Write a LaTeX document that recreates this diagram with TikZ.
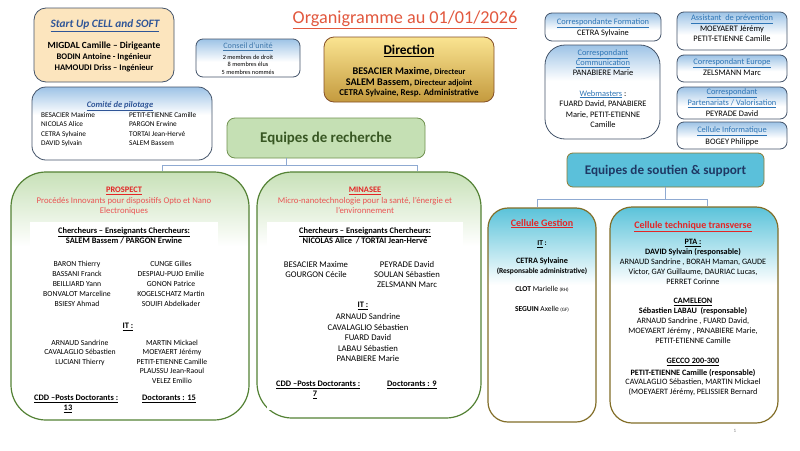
\documentclass[tikz,border=0pt]{standalone}
\usepackage{fontspec}
\setmainfont{Carlito}
\definecolor{titlered}{RGB}{226,88,62}
\definecolor{blueT}{RGB}{47,85,151}
\definecolor{linkblue}{RGB}{46,117,182}
\definecolor{slate}{RGB}{68,84,106}
\definecolor{startfill}{RGB}{252,229,190}
\definecolor{dirtop}{RGB}{250,228,145}
\definecolor{dirbot}{RGB}{196,154,62}
\definecolor{dirborder}{RGB}{133,80,40}
\definecolor{rechfill}{RGB}{197,224,180}
\definecolor{rechdraw}{RGB}{112,146,80}
\definecolor{rechtext}{RGB}{56,87,35}
\definecolor{teamdraw}{RGB}{84,130,53}
\definecolor{redA}{RGB}{227,38,38}
\definecolor{redB}{RGB}{234,84,84}
\definecolor{soutfill}{RGB}{91,192,218}
\definecolor{soutdraw}{RGB}{140,122,50}
\definecolor{souttext}{RGB}{31,56,100}
\definecolor{celldraw}{RGB}{130,110,40}
\definecolor{connc}{RGB}{143,170,210}
\definecolor{gfade}{RGB}{200,225,184}
\definecolor{cfade}{RGB}{91,195,218}
\definecolor{bfade}{RGB}{157,195,230}
\pgfdeclareverticalshading{greenfade}{100bp}{color(0bp)=(white); color(25bp)=(white); color(60bp)=(white); color(75bp)=(gfade); color(100bp)=(gfade)}
\pgfdeclareverticalshading{cyanfade}{100bp}{color(0bp)=(white); color(25bp)=(white); color(57bp)=(white); color(75bp)=(cfade); color(100bp)=(cfade)}
\pgfdeclareverticalshading{bluefade}{100bp}{color(0bp)=(white); color(25bp)=(white); color(45bp)=(white); color(75bp)=(bfade); color(100bp)=(bfade)}
\pgfdeclareverticalshading{bluefadetall}{100bp}{color(0bp)=(white); color(25bp)=(white); color(56bp)=(white); color(75bp)=(bfade); color(100bp)=(bfade)}
\begin{document}
\begin{tikzpicture}[x=1pt,y=-1pt,
  box/.style={inner sep=0pt, line width=0.8pt},
  bluebox/.style={box, draw=slate, shading=bluefade, rounded corners=7pt},
  teambox/.style={box, draw=teamdraw, line width=1.2pt, shading=greenfade, rounded corners=35pt},
  cellbox/.style={box, draw=celldraw, line width=1.2pt, shading=cyanfade, rounded corners=20pt},
  conn/.style={draw=connc, line width=0.8pt},
  tx/.style={inner sep=0pt, text depth=0pt, align=center},
  n/.style={tx, font=\fontsize{7.7}{9}\selectfont, text height=5pt},
  nb/.style={tx, font=\fontsize{8.4}{10}\selectfont\bfseries, text height=5.4pt},
  sub/.style={tx, font=\fontsize{8.7}{10}\selectfont, text height=5.6pt},
  tn/.style={tx, font=\fontsize{8.2}{10}\selectfont, text height=5.3pt},
  tnb/.style={tx, font=\fontsize{8.2}{10}\selectfont\bfseries, text height=5.3pt},
  rn/.style={tx, font=\fontsize{8.4}{10}\selectfont, text height=5.4pt},
  rl/.style={rn, text=linkblue},
  cn/.style={tx, font=\fontsize{7.3}{9}\selectfont, text height=4.7pt},
  gn/.style={tx, font=\fontsize{7.5}{9}\selectfont, text height=4.8pt},
  ctitle/.style={tx, font=\fontsize{10}{12}\selectfont\bfseries, text=redA, text height=6.4pt}
]
\useasboundingbox (0,0) rectangle (800,450);
\fill[white] (0,0) rectangle (800,450);

% ---------- title
\node[tx, font=\fontsize{18.2}{20}\selectfont, text=titlered, text height=11.7pt] (title) at (405,18) {\underline{Organigramme au 01/01/2026}};

% ---------- Start Up
\node[box, draw=slate, fill=startfill, rounded corners=12pt, minimum width=140pt, minimum height=74pt] (startup) at (104,45) {};
\node[tx, font=\fontsize{11.3}{13}\selectfont\bfseries\itshape, text=blueT, text height=7.3pt] (su1) at (105,24) {\underline{Start Up CELL and SOFT}};
\node[tx, font=\fontsize{9.4}{11}\selectfont\bfseries, text height=6pt] (su2) at (104,45) {MIGDAL Camille – Dirigeante};
\node[tx, font=\fontsize{8.6}{10}\selectfont\bfseries, text height=5.5pt] (su3) at (104,57) {BODIN Antoine - Ingénieur};
\node[tx, font=\fontsize{8.6}{10}\selectfont\bfseries, text height=5.5pt] (su4) at (104,68) {HAMOUDI Driss – Ingénieur};

% ---------- Conseil d'unite
\node[bluebox, minimum width=104pt, minimum height=38pt] (conseil) at (248,58) {};
\node[tx, font=\fontsize{8.2}{9}\selectfont, text=linkblue!80!gray, text height=5.3pt] (cu1) at (248,46) {\underline{Conseil d'unité}};
\node[tx, font=\fontsize{6.3}{7}\selectfont, text height=4.1pt] (cu2) at (248,57) {2 membres de droit};
\node[tx, font=\fontsize{6.3}{7}\selectfont, text height=4.1pt] (cu3) at (248,64.5) {8 membres élus};
\node[tx, font=\fontsize{6.3}{7}\selectfont, text height=4.1pt] (cu4) at (248,72) {5 membres nommés};

% ---------- Direction
\node[box, draw=dirborder, top color=dirtop, bottom color=dirbot, rounded corners=10pt, minimum width=170pt, minimum height=65pt] (direction) at (409,69.5) {};
\node[tx, font=\fontsize{13.4}{15}\selectfont\bfseries, text height=8.6pt] (d1) at (409,50) {\underline{Direction}};
\node[tx, font=\fontsize{10.2}{12}\selectfont\bfseries, text height=6.5pt] (d2) at (409,71) {BESACIER Maxime, {\fontsize{8}{9}\selectfont Directeur}};
\node[tx, font=\fontsize{10.2}{12}\selectfont\bfseries, text height=6.5pt] (d3) at (409,82) {SALEM Bassem, {\fontsize{8.2}{9}\selectfont Directeur adjoint}};
\node[tx, font=\fontsize{9}{10}\selectfont\bfseries, text height=5.8pt] (d4) at (409,93) {CETRA Sylvaine, Resp. Administrative};

% ---------- Comite de pilotage
\node[box, draw=slate, shading=bluefadetall, rounded corners=14pt, minimum width=180pt, minimum height=73pt] (comite) at (122,123.5) {};
\node[tx, font=\fontsize{8.5}{10}\selectfont\bfseries\itshape, text=blueT, text height=5.5pt] (cp0) at (120,105) {\underline{Comité de pilotage}};
\foreach \t [count=\i from 0] in {BESACIER Maxime, NICOLAS Alice, CETRA Sylvaine, DAVID Sylvain}
  \node[cn, anchor=west] (cpl\i) at (41,115+9.4*\i) {\t};
\foreach \t [count=\i from 0] in {PETIT-ETIENNE Camille, PARGON Erwine, TORTAI Jean-Hervé, { SALEM Bassem}}
  \node[cn, anchor=west] (cpr\i) at (129,115+9.4*\i) {\t};

% ---------- Equipes de recherche
\node[box, draw=rechdraw, fill=rechfill, rounded corners=8pt, minimum width=198pt, minimum height=40pt] (recherche) at (326,138) {};
\node[tx, font=\fontsize{14.9}{17}\selectfont\bfseries, text height=9.6pt, text=rechtext] (rt) at (326,138) {Equipes de recherche};

% ---------- PROSPECT
\node[teambox, minimum width=238pt, minimum height=248pt] (prospect) at (130,296) {};
\fill[white] (30,222) rectangle (218,412);
\node[nb, text=redA] (p1) at (124,190) {\underline{PROSPECT}};
\node[sub, text=redB] (p2) at (124,200.5) {Procédés Innovants pour dispositifs Opto et Nano};
\node[sub, text=redB] (p3) at (124,211) {Electroniques};
\node[nb] (p4) at (124,231) {\underline{Chercheurs – Enseignants Chercheurs:}};
\node[nb] (p5) at (124,241) {SALEM Bassem / PARGON Erwine};
\foreach \t [count=\i from 0] in {BARON Thierry, BASSANI Franck, BEILLIARD Yann, BONVALOT Marceline, BSIESY Ahmad}
  \node[n] (pa\i) at (77,264+10*\i) {\t};
\foreach \t [count=\i from 0] in {CUNGE Gilles, DESPIAU-PUJO Emilie, GONON Patrice, KOGELSCHATZ Martin, SOUIFI Abdelkader}
  \node[n] (pb\i) at (171,264+10*\i) {\t};
\node[nb] (pit) at (128,326) {\underline{IT :}};
\foreach \t [count=\i from 0] in {ARNAUD Sandrine, CAVALAGLIO Sébastien, LUCIANI Thierry}
  \node[n] (pc\i) at (80,343+9.4*\i) {\t};
\foreach \t [count=\i from 0] in {MARTIN Mickael, MOEYAERT Jérémy, PETIT-ETIENNE Camille, PLAUSSU Jean-Raoul, VELEZ Emilio}
  \node[n] (pd\i) at (172,343+9.4*\i) {\t};
\node[nb, anchor=west] (pcdd) at (34,398) {\underline{CDD –Posts Doctorants :}};
\node[nb] (pcdd2) at (68,408) {\underline{13}};
\node[nb, anchor=west] (pdoc) at (142,398) {\underline{Doctorants : 15}};

% ---------- MINASEE
\node[teambox, minimum width=224pt, minimum height=246pt] (minasee) at (369,295) {};
\fill[white] (267,222) rectangle (463,410);
\node[nb, text=redA] (m1) at (365,190) {\underline{MINASEE}};
\node[sub, text=redB] (m2) at (365,200.5) {Micro-nanotechnologie pour la santé, l'énergie et};
\node[sub, text=redB] (m3) at (365,211) {l'environnement};
\node[nb] (m4) at (365,231) {\underline{Chercheurs – Enseignants Chercheurs:}};
\node[nb] (m5) at (365,241) {NICOLAS Alice~~/ TORTAI Jean-Hervé};
\foreach \t [count=\i from 0] in {BESACIER Maxime, GOURGON Cécile}
  \node[sub] (ma\i) at (316,265+9.8*\i) {\t};
\foreach \t [count=\i from 0] in {PEYRADE David, SOULAN Sébastien, ZELSMANN Marc}
  \node[sub] (mb\i) at (407,265+9.8*\i) {\t};
\node[nb] (mit) at (363,305) {\underline{IT :}};
\foreach \t [count=\i from 0] in {ARNAUD Sandrine, CAVALAGLIO Sébastien, FUARD David, LABAU Sébastien, PANABIERE Marie}
  \node[sub] (mc\i) at (368,317+10.4*\i) {\t};
\node[nb, anchor=west] (mcdd) at (276,384) {\underline{CDD –Posts Doctorants :}};
\node[nb] (mcdd2) at (315,394) {\underline{7}};
\node[nb, anchor=west] (mdoc) at (387,384) {\underline{Doctorants : 9}};

% ---------- right column boxes
\node[bluebox, minimum width=116pt, minimum height=28pt] (formation) at (603,27) {};
\node[rl] (f1) at (603,21.5) {\underline{Correspondante Formation}};
\node[rn] (f2) at (603,32.5) {CETRA Sylvaine};

\node[box, draw=slate, shading=bluefadetall, rounded corners=20pt, minimum width=115pt, minimum height=94pt] (comm) at (602.5,92) {};
\node[rl] (c1) at (603,53) {\underline{Correspondant}};
\node[rl] (c2) at (603,63) {\underline{Communication}};
\node[rn] (c3) at (603,73) {PANABIERE Marie};
\node[rn] (c4) at (603,93.5) {\textcolor{linkblue}{\underline{Webmasters}} :};
\node[rn] (c5) at (603,104) {FUARD David, PANABIERE};
\node[rn] (c6) at (603,114.5) {Marie, PETIT-ETIENNE};
\node[rn] (c7) at (603,125) {Camille};

\node[bluebox, minimum width=110pt, minimum height=38pt] (assistant) at (732,31) {};
\node[rl] (a1) at (732,18) {\underline{Assistant~~de prévention}};
\node[rn] (a2) at (732,28.5) {MOEYAERT Jérémy};
\node[rn] (a3) at (732,39) {PETIT-ETIENNE Camille};

\node[bluebox, minimum width=110pt, minimum height=27pt] (europe) at (732,68.5) {};
\node[rl] (e1) at (732,62) {\underline{Correspondant Europe}};
\node[rn] (e2) at (732,73) {ZELSMANN Marc};

\node[bluebox, minimum width=110pt, minimum height=32pt] (parten) at (732,103) {};
\node[rl] (v1) at (732,92) {\underline{Correspondant}};
\node[rl] (v2) at (732,103) {\underline{Partenariats / Valorisation}};
\node[rn] (v3) at (732,113.5) {PEYRADE David};

\node[bluebox, minimum width=110pt, minimum height=27pt] (info) at (732,135.5) {};
\node[rl] (i1) at (732,130) {\underline{Cellule Informatique}};
\node[rn] (i2) at (732,141.5) {BOGEY Philippe};

% ---------- Equipes de soutien
\node[box, draw=soutdraw, fill=soutfill, rounded corners=6pt, minimum width=197pt, minimum height=34pt] (soutien) at (665.5,170) {};
\node[tx, font=\fontsize{13.2}{15}\selectfont\bfseries, text height=8.5pt, text=souttext] (st) at (665.5,170) {Equipes de soutien \& support};

% ---------- Cellule Gestion
\node[cellbox, minimum width=108pt, minimum height=214pt] (gestion) at (542,315) {};
\node[ctitle] (g1) at (542,223) {\underline{Cellule Gestion}};
\node[tx, font=\fontsize{7.5}{9}\selectfont\bfseries, text height=4.8pt] (g2) at (542,243) {\underline{IT} :};
\node[tx, font=\fontsize{8.2}{9}\selectfont\bfseries, text height=5.3pt] (g3) at (542,261) {CETRA Sylvaine};
\node[tx, font=\fontsize{7.5}{9}\selectfont\bfseries, text height=4.8pt] (g4) at (542,271) {(Responsable administrative)};
\node[gn] (g5) at (542,289) {\textbf{CLOT} Marielle {\fontsize{5}{6}\selectfont (RH)}};
\node[gn] (g6) at (542,309) {\textbf{SEGUIN} Axelle {\fontsize{5}{6}\selectfont (GF)}};

% ---------- Cellule technique transverse
\node[cellbox, rounded corners=22pt, minimum width=168pt, minimum height=216pt] (technique) at (694,315) {};
\node[ctitle] (t0) at (693,225) {\underline{Cellule technique transverse}};
\node[tnb] (t1) at (693,242) {\underline{PTA :}};
\node[tnb] (t2) at (693,252) {DAVID Sylvain (responsable)};
\foreach \t [count=\i from 0] in {{ARNAUD Sandrine , BORAH Maman, GAUDE}, {Victor, GAY Guillaume, DAURIAC Lucas,}, PERRET Corinne}
  \node[tn] (ta\i) at (693,262+10*\i) {\t};
\node[tnb] (t3) at (693,301) {\underline{CAMELEON}};
\node[tnb] (t4) at (693,311) {Sébastien LABAU~~(responsable)};
\foreach \t [count=\i from 0] in {{ARNAUD Sandrine , FUARD David,}, {MOEYAERT Jérémy , PANABIERE Marie,}, PETIT-ETIENNE Camille}
  \node[tn] (tb\i) at (693,321+10*\i) {\t};
\node[tnb] (t5) at (693,361) {\underline{GECCO 200-300}};
\node[tnb] (t6) at (693,373) {PETIT-ETIENNE Camille (responsable)};
\foreach \t [count=\i from 0] in {{CAVALAGLIO Sébastien, MARTIN Mickael}, {(MOEYAERT Jérémy, PELISSIER Bernard}}
  \node[tn] (tc\i) at (693,382+9.5*\i) {\t};

% ---------- page number
\node[tx, font=\fontsize{5}{6}\selectfont, text=gray, text height=3.3pt] (pg) at (735,431) {1};

% ---------- connectors
\coordinate (rj) at (286,165);
\coordinate (rjl) at (162,165);
\coordinate (rjr) at (417,165);
\draw[conn] (recherche.south -| rj) -- (rj);
\draw[conn] (rjl) -- (rjr);
\draw[conn] (rjl) -- (rjl |- prospect.north);
\draw[conn] (rjr) -- (rjr |- minasee.north);
\coordinate (sj) at (665.5,199);
\coordinate (sjl) at (537,199);
\coordinate (sjr) at (707,199);
\draw[conn] (soutien.south) -- (sj);
\draw[conn] (sjl) -- (sjr);
\draw[conn] (sjl) -- (sjl |- gestion.north);
\draw[conn] (sjr) -- (sjr |- technique.north);
\end{tikzpicture}
\end{document}
